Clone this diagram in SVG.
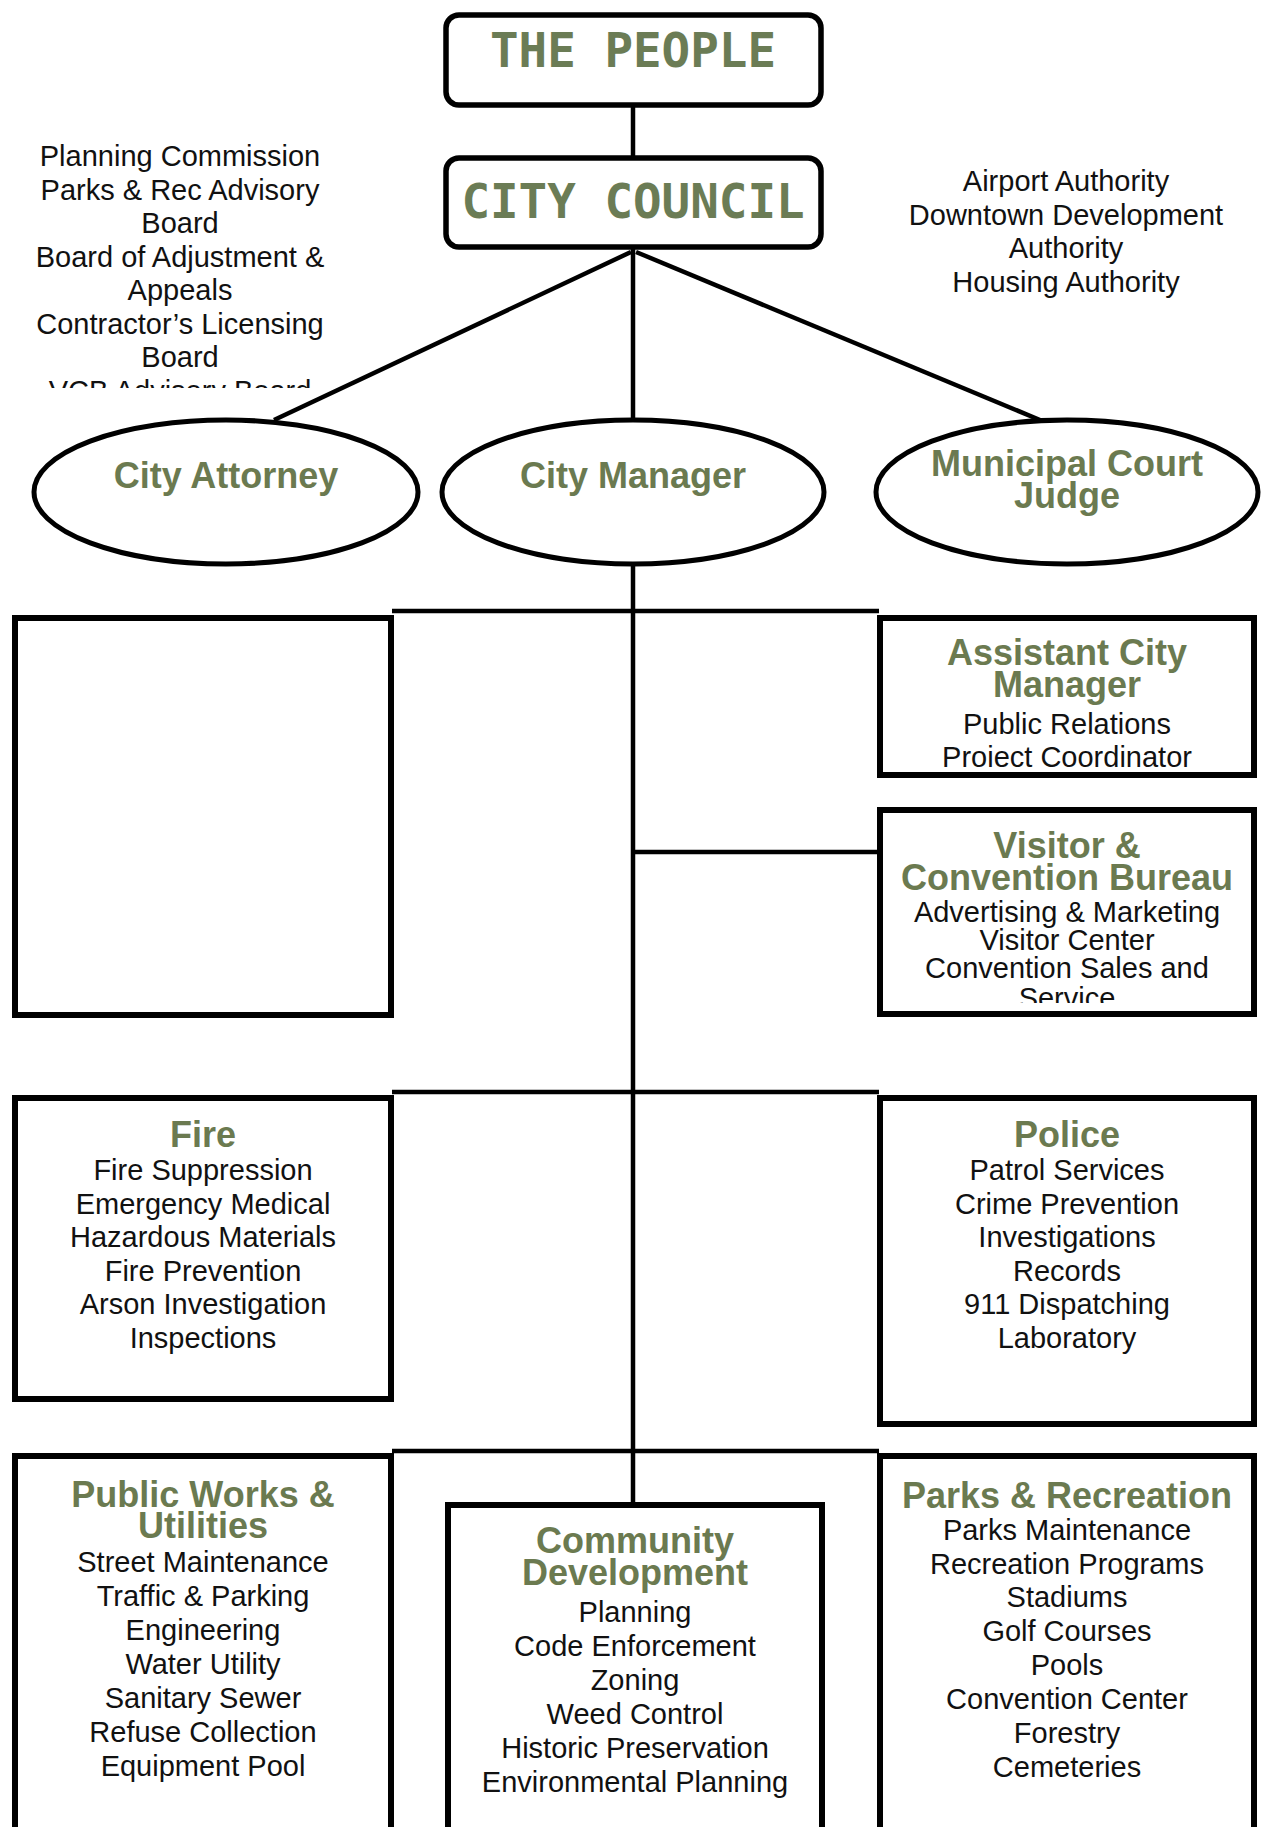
<svg xmlns="http://www.w3.org/2000/svg" width="1262" height="1827" viewBox="0 0 1262 1827">
<style>
.box{fill:#fff;stroke:#000;stroke-width:6}
.rbox{fill:#fff;stroke:#000;stroke-width:5.5}
.ell{fill:#fff;stroke:#000;stroke-width:5}
.conn{stroke:#000;stroke-width:4.5;fill:none}
.h{font-family:"Liberation Sans",Arial,sans-serif;font-weight:bold;font-size:36px;fill:#6b7a50;text-anchor:middle}
.t{font-family:"Liberation Sans",Arial,sans-serif;font-size:29px;fill:#111;text-anchor:middle}
.mono{font-family:"DejaVu Sans Mono","Liberation Mono",monospace;font-weight:bold;font-size:47.5px;fill:#6b7c55;text-anchor:middle}
</style>
<defs>
<clipPath id="clipLeft"><rect x="0" y="120" width="430" height="268"/></clipPath>
<clipPath id="clipVisitor"><rect x="880" y="810" width="374" height="193"/></clipPath>
</defs>
<rect width="1262" height="1827" fill="#fff"/>

<g id="connectors">
<line class="conn" x1="633" y1="106" x2="633" y2="158"/>
<line class="conn" x1="633" y1="248" x2="633" y2="420"/>
<line class="conn" x1="631" y1="252" x2="274" y2="420"/>
<line class="conn" x1="636" y1="252" x2="1040" y2="420"/>
<line class="conn" x1="633" y1="563" x2="633" y2="1504"/>
<line class="conn" x1="392" y1="611" x2="879" y2="611"/>
<line class="conn" x1="633" y1="852" x2="879" y2="852"/>
<line class="conn" x1="392" y1="1092" x2="879" y2="1092"/>
<line class="conn" x1="392" y1="1451" x2="879" y2="1451"/>
</g>

<g id="the-people">
<rect class="rbox" x="446" y="15" width="375" height="90" rx="13"/>
<text class="mono" x="633" y="67">THE PEOPLE</text>
</g>

<g id="city-council">
<rect class="rbox" x="446" y="158" width="375" height="89" rx="13"/>
<text class="mono" x="633" y="218">CITY COUNCIL</text>
</g>

<g id="boards-left" clip-path="url(#clipLeft)">
<text class="t" x="180" y="166">Planning Commission</text>
<text class="t" x="180" y="199.5">Parks &amp; Rec Advisory</text>
<text class="t" x="180" y="233">Board</text>
<text class="t" x="180" y="266.5">Board of Adjustment &amp;</text>
<text class="t" x="180" y="300">Appeals</text>
<text class="t" x="180" y="333.5">Contractor’s Licensing</text>
<text class="t" x="180" y="367">Board</text>
<text class="t" x="180" y="400.5">VCB Advisory Board</text>
</g>

<g id="authorities-right">
<text class="t" x="1066" y="191">Airport Authority</text>
<text class="t" x="1066" y="224.5">Downtown Development</text>
<text class="t" x="1066" y="258">Authority</text>
<text class="t" x="1066" y="291.5">Housing Authority</text>
</g>

<g id="city-attorney">
<ellipse class="ell" cx="226" cy="492" rx="192" ry="72"/>
<text class="h" x="226" y="488">City Attorney</text>
</g>

<g id="city-manager">
<ellipse class="ell" cx="633" cy="492" rx="191" ry="72"/>
<text class="h" x="633" y="488">City Manager</text>
</g>

<g id="municipal-court-judge">
<ellipse class="ell" cx="1067" cy="492" rx="191" ry="72"/>
<text class="h" x="1067" y="476">Municipal Court</text>
<text class="h" x="1067" y="508">Judge</text>
</g>

<g id="empty-box">
<rect class="box" x="15" y="618" width="376" height="397"/>
</g>

<g id="assistant-city-manager">
<rect class="box" x="880" y="618" width="374" height="157"/>
<text class="h" x="1067" y="665">Assistant City</text>
<text class="h" x="1067" y="697">Manager</text>
<text class="t" x="1067" y="734">Public Relations</text>
<text class="t" x="1067" y="767">Proiect Coordinator</text>
</g>

<g id="visitor-convention-bureau">
<rect class="box" x="880" y="810" width="374" height="204"/>
<text class="h" x="1067" y="858">Visitor &amp;</text>
<text class="h" x="1067" y="890">Convention Bureau</text>
<g clip-path="url(#clipVisitor)">
<text class="t" x="1067" y="922">Advertising &amp; Marketing</text>
<text class="t" x="1067" y="950">Visitor Center</text>
<text class="t" x="1067" y="978">Convention Sales and</text>
<text class="t" x="1067" y="1008">Service</text>
</g>
</g>

<g id="fire">
<rect class="box" x="15" y="1098" width="376" height="301"/>
<text class="h" x="203" y="1147">Fire</text>
<text class="t" x="203" y="1180">Fire Suppression</text>
<text class="t" x="203" y="1213.5">Emergency Medical</text>
<text class="t" x="203" y="1247">Hazardous Materials</text>
<text class="t" x="203" y="1280.5">Fire Prevention</text>
<text class="t" x="203" y="1314">Arson Investigation</text>
<text class="t" x="203" y="1347.5">Inspections</text>
</g>

<g id="police">
<rect class="box" x="880" y="1098" width="374" height="326"/>
<text class="h" x="1067" y="1147">Police</text>
<text class="t" x="1067" y="1180">Patrol Services</text>
<text class="t" x="1067" y="1213.5">Crime Prevention</text>
<text class="t" x="1067" y="1247">Investigations</text>
<text class="t" x="1067" y="1280.5">Records</text>
<text class="t" x="1067" y="1314">911 Dispatching</text>
<text class="t" x="1067" y="1347.5">Laboratory</text>
</g>

<g id="public-works-utilities">
<rect class="box" x="15" y="1456" width="376" height="420"/>
<text class="h" x="203" y="1507">Public Works &amp;</text>
<text class="h" x="203" y="1538">Utilities</text>
<text class="t" x="203" y="1572">Street Maintenance</text>
<text class="t" x="203" y="1606">Traffic &amp; Parking</text>
<text class="t" x="203" y="1640">Engineering</text>
<text class="t" x="203" y="1674">Water Utility</text>
<text class="t" x="203" y="1708">Sanitary Sewer</text>
<text class="t" x="203" y="1742">Refuse Collection</text>
<text class="t" x="203" y="1776">Equipment Pool</text>
</g>

<g id="community-development">
<rect class="box" x="448" y="1505" width="374" height="400"/>
<text class="h" x="635" y="1553">Community</text>
<text class="h" x="635" y="1585">Development</text>
<text class="t" x="635" y="1622">Planning</text>
<text class="t" x="635" y="1656">Code Enforcement</text>
<text class="t" x="635" y="1690">Zoning</text>
<text class="t" x="635" y="1724">Weed Control</text>
<text class="t" x="635" y="1758">Historic Preservation</text>
<text class="t" x="635" y="1792">Environmental Planning</text>
</g>

<g id="parks-recreation">
<rect class="box" x="880" y="1456" width="374" height="420"/>
<text class="h" x="1067" y="1508">Parks &amp; Recreation</text>
<text class="t" x="1067" y="1540">Parks Maintenance</text>
<text class="t" x="1067" y="1574">Recreation Programs</text>
<text class="t" x="1067" y="1607">Stadiums</text>
<text class="t" x="1067" y="1641">Golf Courses</text>
<text class="t" x="1067" y="1675">Pools</text>
<text class="t" x="1067" y="1709">Convention Center</text>
<text class="t" x="1067" y="1743">Forestry</text>
<text class="t" x="1067" y="1777">Cemeteries</text>
</g>
</svg>
